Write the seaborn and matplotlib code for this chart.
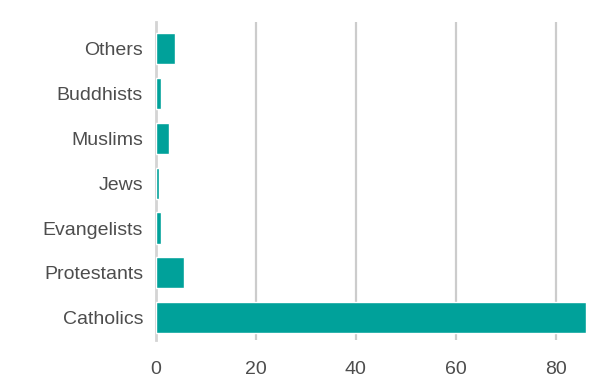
import matplotlib
matplotlib.use("Agg")
import matplotlib.pyplot as plt
import seaborn as sns
import pandas as pd

categories = ["Others", "Buddhists", "Muslims", "Jews", "Evangelists", "Protestants", "Catholics"]
values = [3.9, 1.0, 2.6, 0.6, 1.0, 5.6, 86.0]
xticks = [0, 20, 40, 60, 80]

sns.set_style("white")
plt.rcParams["font.family"] = ["Liberation Sans", "DejaVu Sans"]

df = pd.DataFrame({"category": categories, "value": values})

fig = plt.figure(figsize=(6.16, 3.90), dpi=100)
ax = fig.add_axes([155.5 / 616, 1 - 340 / 390, (586 - 155.5) / 616, (340 - 22) / 390])

sns.barplot(data=df, x="value", y="category", order=categories, orient="h",
            color="#00a19a", saturation=1, width=0.69, ax=ax, zorder=3)

ax.set_xlim(0, 86)
ax.set_ylim(6.49, -0.58)
ax.set_xticks(xticks)
ax.set_xlabel("")
ax.set_ylabel("")
ax.grid(axis="x", color="#cccccc", linewidth=1.6, zorder=0)
ax.grid(axis="y", visible=False)
for s in ["top", "right", "bottom"]:
    ax.spines[s].set_visible(False)
ax.spines["left"].set_color("#d4d4d4")
ax.spines["left"].set_linewidth(2)
ax.tick_params(axis="both", length=0, labelsize=14, labelcolor="#4d4d4d")
ax.tick_params(axis="x", pad=15)
ax.tick_params(axis="y", pad=9)

fig.savefig("out.png", dpi=100)
